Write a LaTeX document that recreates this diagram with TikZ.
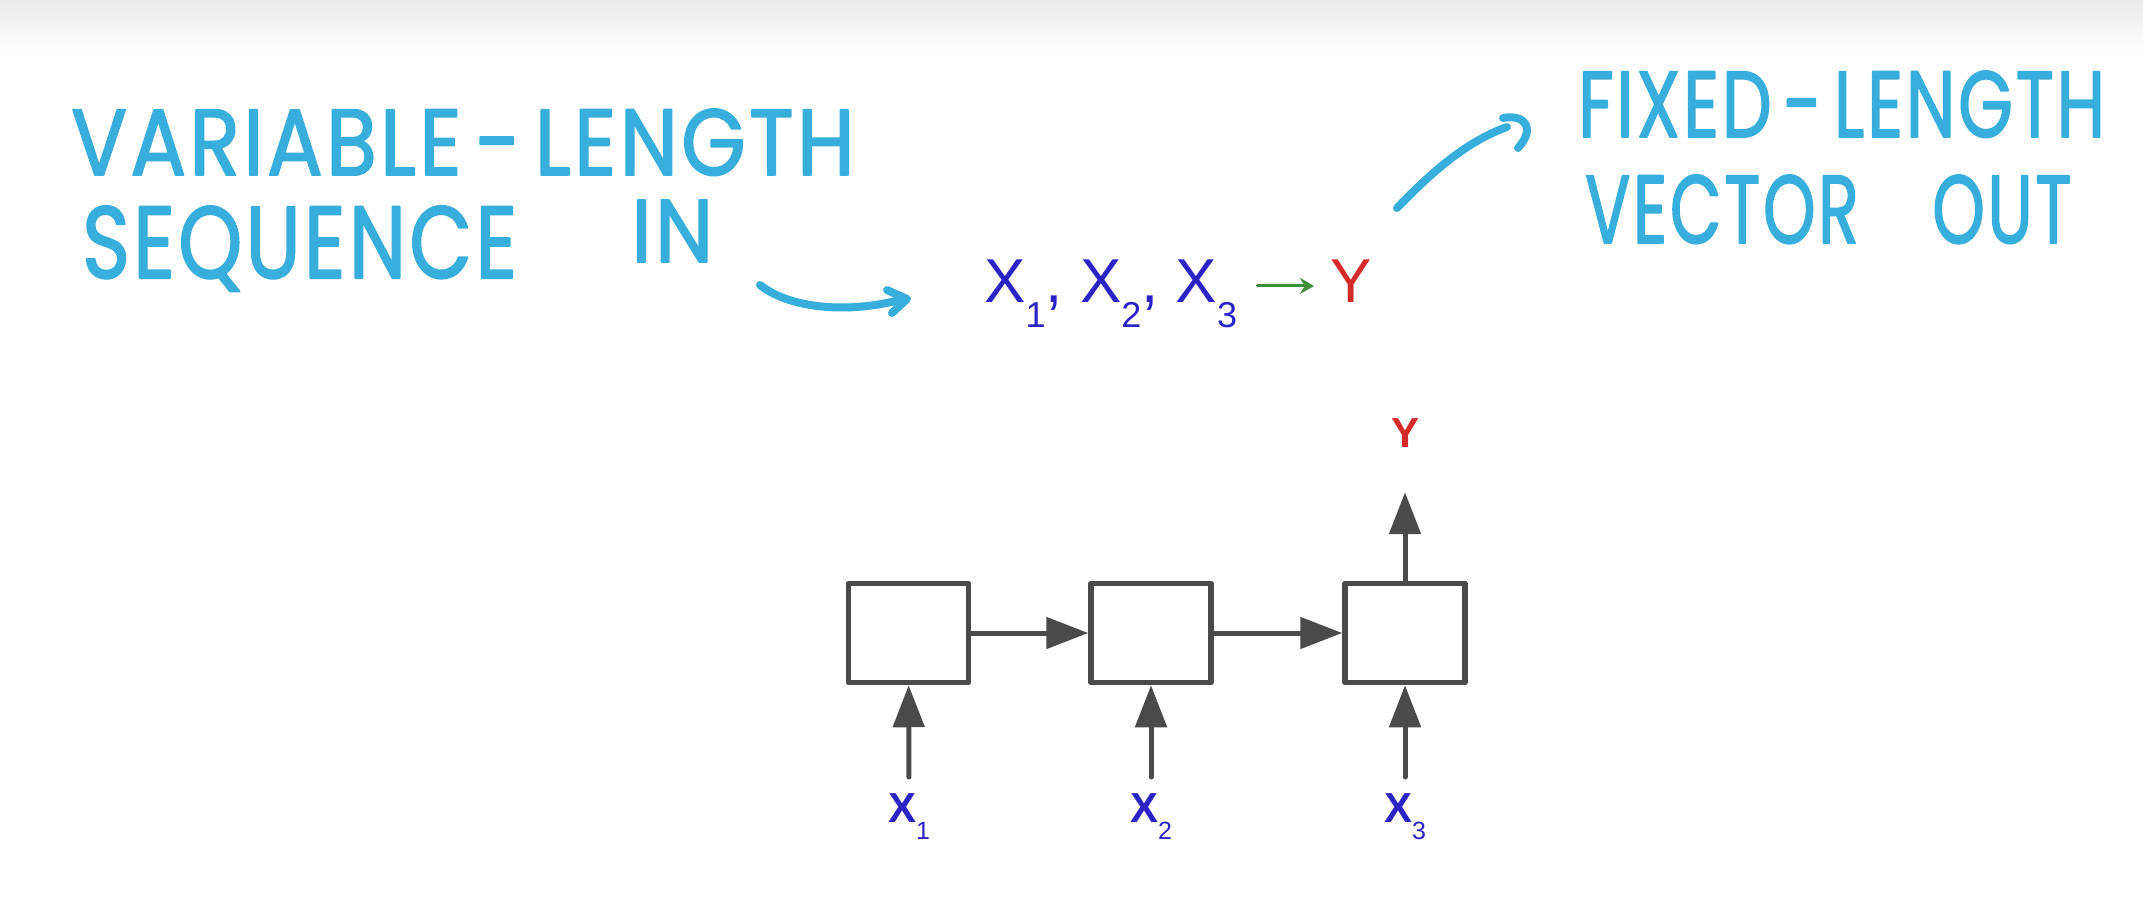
\documentclass[tikz,border=0pt]{standalone}
\usepackage{fontspec}
\usepackage{graphicx}
\usepackage{tikz}
\usetikzlibrary{arrows.meta}
\setmainfont{Liberation Sans}
\newfontfamily\handfont[LetterSpace=4,FakeBold=2]{Poppins}
\definecolor{rnnhand}{HTML}{38AEDD}
\definecolor{rnnblue}{HTML}{2B23C4}
\definecolor{rnnred}{HTML}{D42A2A}
\definecolor{rnngreen}{HTML}{3E8E3A}
\definecolor{rnngray}{HTML}{4A4A4A}
\newcommand{\idx}[3]{%
  \raisebox{-#1}{\mdseries\fontsize{#2}{#2}\selectfont #3}}
\newcommand{\scrawl}[6]{%
  \node[anchor=base west,inner sep=0pt,text=rnnhand] (#1) at (#2,#3)
    {\resizebox{#4}{#5}{\handfont #6}};
}

\begin{document}
\begin{tikzpicture}[x=1pt,y=1pt,line cap=round,line join=round,
  cell/.style={draw=rnngray,line width=5.5pt,minimum width=120pt,
    minimum height=99pt,inner sep=0pt},
  flow/.style={draw=rnngray,line width=5pt,
    -{Triangle[length=42pt,width=31pt]}},
  pen/.style={draw=rnnhand,line width=8pt},
  tag/.style={inner sep=0pt,font=\bfseries\fontsize{42}{42}\selectfont},
  formula/.style={anchor=base west,inner sep=0pt,
    font=\fontsize{62}{62}\selectfont}]
\useasboundingbox (0,0) rectangle (2143,914);
\fill[white] (0,0) rectangle (2143,914);
\shade[top color=black!8,bottom color=white] (0,914) rectangle (2143,860);

% handwritten notes
\scrawl{varlen}{71}{739}{783pt}{66pt}{VARIABLE\,-\,LENGTH}
\scrawl{seqword}{82}{636}{435pt}{72pt}{SEQUENCE}
\scrawl{inword}{631}{652}{82pt}{62pt}{IN}
\scrawl{fixlen}{1578}{777}{527pt}{66pt}{FIXED\,-\,LENGTH}
\scrawl{vecout}{1585}{671}{486pt}{68pt}{VECTOR\hspace{1.1em}OUT}
\draw[pen] (760,629) .. controls (790,605) and (850,600) .. (903,615);
\draw[pen] (887,624) -- (907,615) -- (892,601);
\draw[pen] (1397,706) .. controls (1430,740) and (1465,772) .. (1507,787);
\draw[pen] (1503,796) .. controls (1525,800) and (1536,786) .. (1518,766);

% X1, X2, X3 -> Y
\node[formula,text=rnnblue] (seq) at (984,611)
  {X\idx{25pt}{36}{1}, X\idx{25pt}{36}{2}, X\idx{25pt}{36}{3}};
\node[formula,text=rnnred] (yvec) at (1330,611) {Y};
\coordinate (arrA) at ([yshift=17pt]seq.base east);
\draw[draw=rnngreen,line width=3pt,-{Stealth[length=14pt,width=16pt]},
  shorten <=20pt,shorten >=16pt] (arrA) -- (arrA -| yvec.west);

% many-to-one RNN
\node[cell] (c1) at (908.5,281) {};
\node[cell] (c2) at (1151,281) {};
\node[cell] (c3) at (1405,281) {};
\draw[flow] (c1) -- (c2);
\draw[flow] (c2) -- (c3);
\node[tag,text=rnnred,anchor=base] (yout) at (1405,466) {Y};
\draw[flow,shorten >=44pt] (c3.north) -- (yout.south);
\node[tag,text=rnnblue,anchor=north] (x1) at (909,121) {X\idx{17pt}{25}{1}};
\node[tag,text=rnnblue,anchor=north] (x2) at (1151,121) {X\idx{17pt}{25}{2}};
\node[tag,text=rnnblue,anchor=north] (x3) at (1405,121) {X\idx{17pt}{25}{3}};
\draw[flow,shorten <=16pt] (x1) -- (c1);
\draw[flow,shorten <=16pt] (x2) -- (c2);
\draw[flow,shorten <=16pt] (x3) -- (c3);

\end{tikzpicture}
\end{document}
